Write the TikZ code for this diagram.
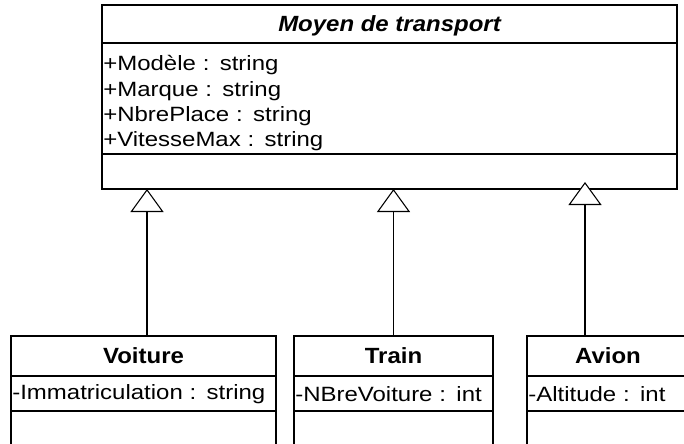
\documentclass[tikz,border=0pt]{standalone}
\usepackage{fontspec}
\newfontfamily\umlfont[FakeStretch=1.16]{Liberation Sans}
\newfontfamily\umlheadfont[FakeStretch=1.09]{Liberation Sans}
\usetikzlibrary{positioning,arrows.meta}
\tikzset{
  classpart/.style={draw, line width=1.1pt, outer sep=0pt, inner xsep=1pt, inner ysep=0pt},
  classname/.style={classpart, font=\umlheadfont\bfseries\fontsize{16.5pt}{19pt}\selectfont},
  classattr/.style={classpart, align=left},
  inherit/.style={line width=0.8pt, -{Triangle[fill=white, length=17.25pt, width=24.75pt]}}
}
\begin{document}
\begin{tikzpicture}
\umlfont\fontsize{15.5pt}{19pt}\selectfont
\useasboundingbox (0,0) rectangle (513pt,-332.25pt);
\clip (0,0) rectangle (513pt,-332.25pt);
\node[classname, minimum width=431.25pt, minimum height=28.5pt, text height=15pt, anchor=north west] (moyen) at (76.5pt,-3.75pt) {\itshape Moyen de transport};
\node[classattr, text width=429.25pt, minimum height=83.25pt, text height=18.5pt, below=0pt of moyen] (moyen-attr) {+Modèle : string\\+Marque : string\\+NbrePlace : string\\+VitesseMax : string};
\node[classpart, minimum width=431.25pt, minimum height=26.25pt, below=0pt of moyen-attr] (moyen-ops) {};
\node[classname, minimum width=198.75pt, minimum height=30pt, anchor=north west] (voiture) at (8.25pt,-252pt) {Voiture};
\node[classattr, text width=196.75pt, minimum height=26.25pt, text height=12.5pt, below=0pt of voiture] (voiture-attr) {-Immatriculation : string};
\node[classpart, minimum width=198.75pt, minimum height=45pt, below=0pt of voiture-attr] (voiture-ops) {};
\node[classname, minimum width=149.25pt, minimum height=30pt, anchor=north west] (train) at (220.5pt,-252pt) {Train};
\node[classattr, text width=147.25pt, minimum height=26.25pt, text height=12.5pt, below=0pt of train] (train-attr) {-NBreVoiture : int};
\node[classpart, minimum width=149.25pt, minimum height=45pt, below=0pt of train-attr] (train-ops) {};
\node[classname, minimum width=121.5pt, minimum height=30pt, anchor=north west] (avion) at (395.25pt,-252pt) {Avion};
\node[classattr, text width=119.5pt, minimum height=26.25pt, text height=12.5pt, below=0pt of avion] (avion-attr) {-Altitude : int};
\node[classpart, minimum width=121.5pt, minimum height=45pt, below=0pt of avion-attr] (avion-ops) {};
\coordinate (voiture-in) at ([xshift=102pt]voiture.north west);
\coordinate (avion-in) at ([xshift=43.5pt]avion.north west);
\draw[inherit] (voiture-in) -- (voiture-in |- moyen-ops.south);
\draw[inherit] (train.north) -- (train.north |- moyen-ops.south);
\draw[inherit, shorten >=-5.25pt] (avion-in) -- (avion-in |- moyen-ops.south);
\end{tikzpicture}
\end{document}
